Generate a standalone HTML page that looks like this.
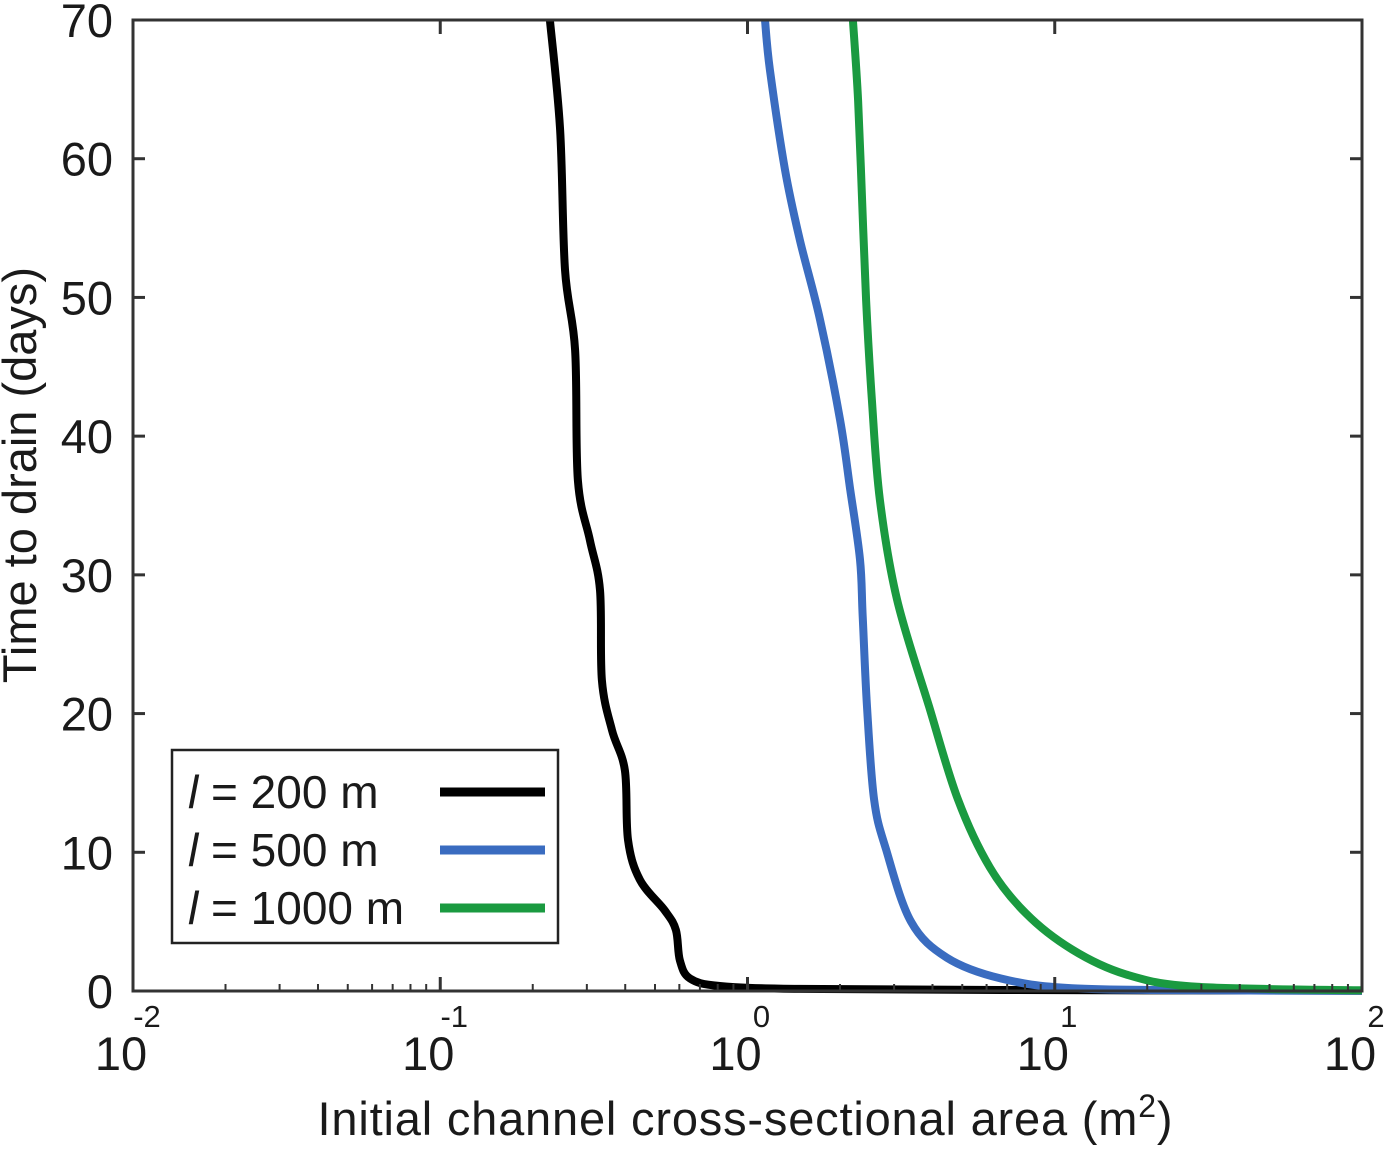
<!DOCTYPE html>
<html><head><meta charset="utf-8"><style>
body{margin:0;background:#fff;}
svg text{font-family:"Liberation Sans",sans-serif;fill:#1a1a1a;}
</style></head><body>
<svg id="chart" width="1400" height="1149" viewBox="0 0 1400 1149" xmlns="http://www.w3.org/2000/svg">
<g id="marks"></g>
<g id="axes"></g>
<text x="745" y="1135" font-size="47" text-anchor="middle" textLength="855">Initial channel cross-sectional area (m<tspan font-size="32" dy="-18">2</tspan><tspan dy="18">)</tspan></text>
<text transform="translate(36,475) rotate(-90)" font-size="47" text-anchor="middle">Time to drain (days)</text>
<g>
<rect x="172" y="750" width="386" height="193" fill="#fff" stroke="#222" stroke-width="2.5"/>
<text x="188" y="808" font-size="46"><tspan font-style="italic">l</tspan> = 200 m</text>
<line x1="440" y1="792" x2="545" y2="792" stroke="#000" stroke-width="9"/>
<text x="188" y="866" font-size="46"><tspan font-style="italic">l</tspan> = 500 m</text>
<line x1="440" y1="850" x2="545" y2="850" stroke="#3a6cc0" stroke-width="9"/>
<text x="188" y="924" font-size="46"><tspan font-style="italic">l</tspan> = 1000 m</text>
<line x1="440" y1="908" x2="545" y2="908" stroke="#1a9a40" stroke-width="9"/>
</g>
</svg>
<script>
const seriesNames=["l200","l500","l1000"];
const seriesColors=["#000000","#3a6cc0","#1a9a40"];
const area200=[-0.643,-0.610,-0.594,-0.561,-0.552,-0.513,-0.480,-0.474,-0.441,-0.399,-0.389,-0.350,-0.269,-0.233,-0.220,-0.187,-0.090,0.171,0.822,2.0];
const time200=[70,62.1,52.0,46.2,36.8,32.5,28.9,22.4,18.8,15.9,10.9,8.0,5.8,4.4,2.2,0.9,0.36,0.15,0.07,0.02];
const area500=[0.057,0.073,0.122,0.171,0.236,0.301,0.334,0.366,0.375,0.389,0.412,0.451,0.532,0.649,0.825,1.056,1.5,2.0];
const time500=[70,66.4,59.2,54.1,48.4,41.2,36.2,31.1,27.0,20.5,13.8,10.2,5.0,2.4,0.9,0.2,0.05,0.02];
const area1000=[0.343,0.360,0.373,0.386,0.405,0.431,0.487,0.591,0.685,0.789,0.906,1.056,1.232,1.463,2.0];
const time1000=[70,64.2,57.0,49.8,42.6,35.4,28.2,20.5,13.8,8.9,5.6,3.0,1.2,0.3,0.05];
const xTickExps=[-2,-1,0,1,2];
const yTicks=[0,10,20,30,40,50,60,70];
const L=133,R=1362,T=20,B=991;
const xs=lg=>L+(lg+2)/4*(R-L);
const ys=v=>B-v/70*(B-T);
const NS="http://www.w3.org/2000/svg";
const marks=document.getElementById('marks'),axes=document.getElementById('axes');
function mk(tag,attrs,parent){const e=document.createElementNS(NS,tag);for(const k in attrs)e.setAttribute(k,attrs[k]);parent.appendChild(e);return e;}
function smooth(pts){let d='M'+pts[0][0].toFixed(1)+','+pts[0][1].toFixed(1);
 for(let i=0;i<pts.length-1;i++){const p0=pts[Math.max(0,i-1)],p1=pts[i],p2=pts[i+1],p3=pts[Math.min(pts.length-1,i+2)];
  const c1=[p1[0]+(p2[0]-p0[0])/6,p1[1]+(p2[1]-p0[1])/6],c2=[p2[0]-(p3[0]-p1[0])/6,p2[1]-(p3[1]-p1[1])/6];
  d+='C'+c1.map(v=>v.toFixed(1)).join(',')+' '+c2.map(v=>v.toFixed(1)).join(',')+' '+p2.map(v=>v.toFixed(1)).join(',');}
 return d;}
const data=[[area200,time200],[area500,time500],[area1000,time1000]];
data.forEach((d,i)=>{
 const pts=d[0].map((a,j)=>[xs(a),ys(d[1][j])]);
 const p=mk('path',{d:smooth(pts),fill:'none',stroke:seriesColors[i],'stroke-width':8,'stroke-linejoin':'round'},marks);
 
 
});
const frame=mk('rect',{x:L,y:T,width:R-L,height:B-T,fill:'none',stroke:'#333','stroke-width':3},axes);


yTicks.forEach(v=>{
 const y=ys(v);
 mk('line',{x1:L,y1:y,x2:L+12,y2:y,stroke:'#333','stroke-width':3},axes);
 mk('line',{x1:R,y1:y,x2:R-12,y2:y,stroke:'#333','stroke-width':3},axes);
 const t=mk('text',{x:L-20,y:y+17,'font-size':47,'text-anchor':'end'},axes);
 t.textContent=v;
 
 
});
xTickExps.forEach((e,i)=>{
 const x=xs(e);
 mk('line',{x1:x,y1:B,x2:x,y2:B-14,stroke:'#333','stroke-width':3},axes);
 mk('line',{x1:x,y1:T,x2:x,y2:T+14,stroke:'#333','stroke-width':3},axes);
 if(i<xTickExps.length-1){for(let m=2;m<10;m++){const xm=xs(e+Math.log10(m));
  mk('line',{x1:xm,y1:B,x2:xm,y2:B-7,stroke:'#333','stroke-width':2},axes);}}
 const t=mk('text',{x:x-12,y:1070,'font-size':47,'text-anchor':'middle'},axes);
 t.textContent='10';
 
 
 const s=mk('text',{x:x+14,y:1027,'font-size':31,'text-anchor':'middle'},axes);
 s.textContent=e;
 
 
});
</script>
</body></html>
